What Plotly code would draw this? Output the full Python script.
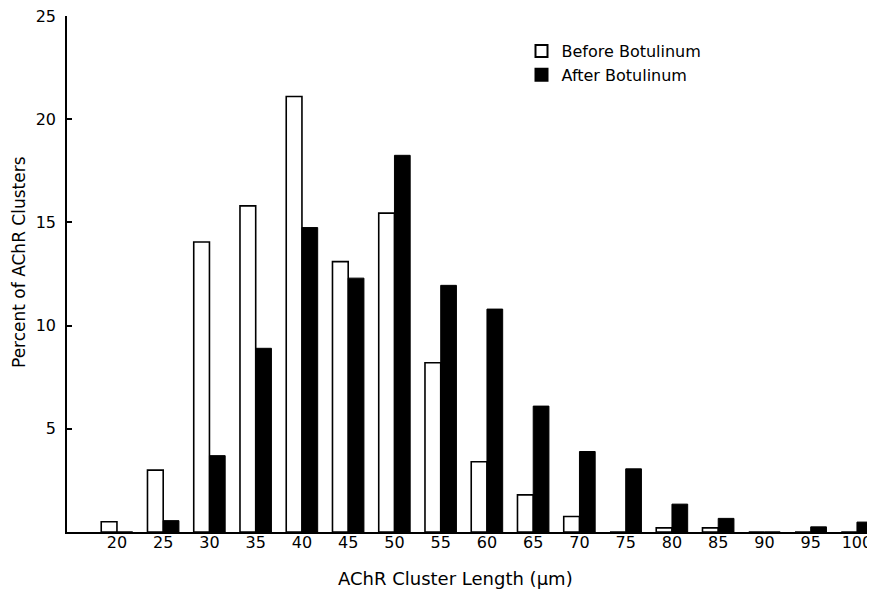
import plotly.graph_objects as go

lengths = [20, 25, 30, 35, 40, 45, 50, 55, 60, 65, 70, 75, 80, 85, 90, 95, 100]
tick_labels = ["20", "25", "30", "35", "40", "45", "50", "55", "60", "65", "70", "75", "80", "85", "90", "95", "100"]
before = [0.5, 3.0, 14.05, 15.8, 21.1, 13.1, 15.45, 8.2, 3.4, 1.8, 0.75, 0, 0.2, 0.2, 0, 0, 0]
after = [0, 0.55, 3.7, 8.9, 14.75, 12.3, 18.25, 11.95, 10.8, 6.1, 3.9, 3.06, 1.35, 0.66, 0, 0.25, 0.48]

FONT = "DejaVu Sans"
BW = 1.7

fig = go.Figure()
fig.add_trace(go.Bar(
    x=lengths, y=before, name="Before Botulinum",
    width=BW, offset=-BW,
    marker=dict(color="white", line=dict(color="black", width=1.6)),
))
fig.add_trace(go.Bar(
    x=lengths, y=after, name="After Botulinum",
    width=BW, offset=0,
    marker=dict(color="black", line=dict(color="black", width=1)),
))

# page has an 8px body margin: figure spans page (8..875, 8..590)
fig.update_layout(
    width=867, height=582,
    margin=dict(l=59, r=0, t=8, b=58, autoexpand=False),
    paper_bgcolor="white", plot_bgcolor="white",
    font=dict(family=FONT, size=15, color="black"),
    showlegend=True,
    legend=dict(
        x=0.5625, y=0.965, xanchor="left", yanchor="top",
        bgcolor="rgba(0,0,0,0)", borderwidth=0,
        font=dict(family=FONT, size=16, color="black"),
        tracegroupgap=0, itemsizing="constant",
    ),
    xaxis=dict(
        range=[14.6, 101.95], automargin=False,
        tickmode="array", tickvals=lengths, ticktext=tick_labels,
        showline=True, linecolor="black", linewidth=1.5,
        ticks="", showgrid=False, zeroline=False,
        tickfont=dict(family=FONT, size=16),
        ticklabelstandoff=-5, ticklabeloverflow="allow",
    ),
    yaxis=dict(
        range=[0, 25], automargin=False,
        tickmode="array", tickvals=[5, 10, 15, 20, 25],
        ticktext=["5", "10", "15", "20", "25"],
        showline=True, linecolor="black", linewidth=1.5,
        ticks="inside", ticklen=5, tickcolor="black", tickwidth=1.5,
        showgrid=False, zeroline=False,
        tickfont=dict(family=FONT, size=16),
        ticklabelstandoff=6, ticklabeloverflow="allow",
    ),
    annotations=[
        dict(text="AChR Cluster Length (\u03bcm)", xref="paper", yref="paper",
             x=(455 - 67) / 808, y=-(578 - 532) / 516, xanchor="center", yanchor="middle",
             showarrow=False, font=dict(family=FONT, size=18)),
        dict(text="Percent of AChR Clusters", xref="paper", yref="paper",
             x=-(67 - 19) / 808, y=(532 - 262) / 516, xanchor="center", yanchor="middle",
             textangle=-90, showarrow=False, font=dict(family=FONT, size=17)),
    ],
)

fig.write_html("out.html")
